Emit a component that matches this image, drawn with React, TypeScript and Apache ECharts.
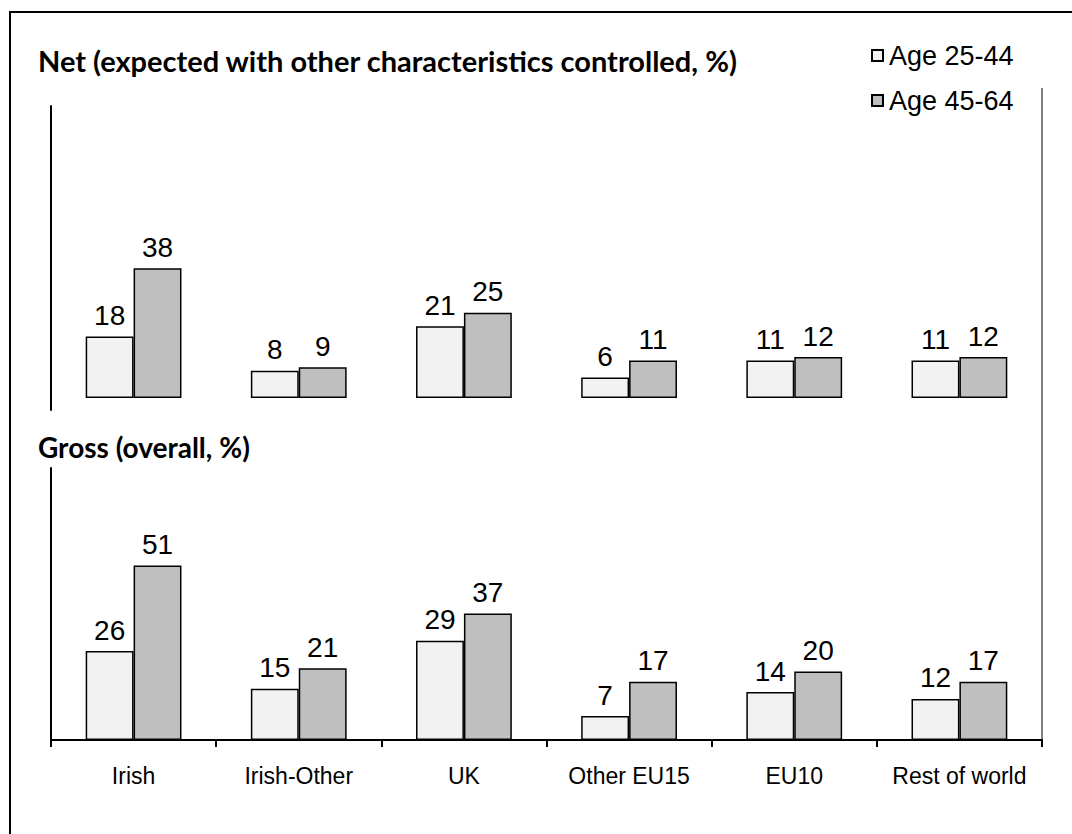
import React, { useEffect, useRef } from "react";
import * as echarts from "echarts";

const categories = ["Irish", "Irish-Other", "UK", "Other EU15", "EU10", "Rest of world"];
const seriesNames = ["Age 25-44", "Age 45-64"];
const netYoung = [18, 8, 21, 6, 11, 11];
const netOld = [38, 9, 25, 11, 12, 12];
const grossYoung = [26, 15, 29, 7, 14, 12];
const grossOld = [51, 21, 37, 17, 20, 17];
const netTitle = "Net (expected with other characteristics controlled, %)";
const grossTitle = "Gross (overall, %)";

const FONT = "Liberation Sans";
const LIGHT = "#F2F2F2";
const DARK = "#BFBFBF";

function barSeries(name: string, data: number[], color: string, idx: number) {
  return {
    type: "bar",
    name,
    data,
    xAxisIndex: idx,
    yAxisIndex: idx,
    barGap: "0%",
    barCategoryGap: "42%",
    itemStyle: { color, borderColor: "#000", borderWidth: 1.5 },
    label: {
      show: true,
      position: "top",
      distance: 7,
      fontSize: 28,
      fontFamily: FONT,
      color: "#000",
    },
  };
}

export default function App() {
  const ref = useRef<HTMLDivElement>(null);
  useEffect(() => {
    if (!ref.current) return;
    const chart = echarts.init(ref.current, null, { renderer: "svg" });
    chart.setOption({
      animation: false,
      backgroundColor: "#fff",
      grid: [
        { left: 51, right: 30, top: 106, height: 304 },
        { left: 51, right: 30, top: 468, height: 272 },
      ],
      xAxis: [
        {
          type: "category",
          gridIndex: 0,
          data: categories,
          axisLine: { show: false },
          axisTick: { show: false },
          axisLabel: { show: false },
        },
        {
          type: "category",
          gridIndex: 1,
          data: categories,
          axisLine: { show: true, lineStyle: { color: "#000", width: 2 } },
          axisTick: { show: true, interval: 0, length: 7, lineStyle: { color: "#000", width: 2 } },
          axisLabel: { interval: 0, fontSize: 23, fontFamily: FONT, color: "#000", margin: 24 },
        },
      ],
      yAxis: [
        {
          type: "value",
          gridIndex: 0,
          min: -3.5,
          max: 85.5,
          axisLine: { show: true, lineStyle: { color: "#000", width: 2 } },
          axisTick: { show: false },
          axisLabel: { show: false },
          splitLine: { show: false },
        },
        {
          type: "value",
          gridIndex: 1,
          min: 0,
          max: 79.5,
          axisLine: { show: true, lineStyle: { color: "#000", width: 2 } },
          axisTick: { show: false },
          axisLabel: { show: false },
          splitLine: { show: false },
        },
      ],
      legend: {
        orient: "vertical",
        left: 866,
        top: 37,
        itemWidth: 11,
        itemHeight: 11,
        itemGap: 18,
        icon: "rect",
        data: seriesNames,
        textStyle: { fontSize: 27, fontFamily: FONT, color: "#000", padding: [0, 0, 0, 1] },
      },
      series: [
        barSeries(seriesNames[0], netYoung, LIGHT, 0),
        barSeries(seriesNames[1], netOld, DARK, 0),
        barSeries(seriesNames[0], grossYoung, LIGHT, 1),
        barSeries(seriesNames[1], grossOld, DARK, 1),
      ],
      graphic: [
        {
          type: "rect",
          shape: { x: 10, y: 12, width: 1200, height: 1000 },
          style: { fill: "none", stroke: "#000", lineWidth: 2 },
          silent: true,
        },
        {
          type: "line",
          shape: { x1: 1042, y1: 88, x2: 1042, y2: 747 },
          style: { stroke: "#808080", lineWidth: 2 },
          silent: true,
        },
        {
          type: "text",
          x: 38,
          y: 60,
          style: {
            text: netTitle,
            font: "bold 29px Lato",
            fill: "#000",
            textVerticalAlign: "middle",
          },
        },
        {
          type: "text",
          x: 38,
          y: 447,
          style: {
            text: grossTitle,
            font: "bold 28px Lato",
            fill: "#000",
            textVerticalAlign: "middle",
          },
        },
      ],
    });
    return () => chart.dispose();
  }, []);
  return (
    <div
      ref={ref}
      style={{ position: "fixed", left: 0, top: 0, width: 1072, height: 834, background: "#fff" }}
    />
  );
}
